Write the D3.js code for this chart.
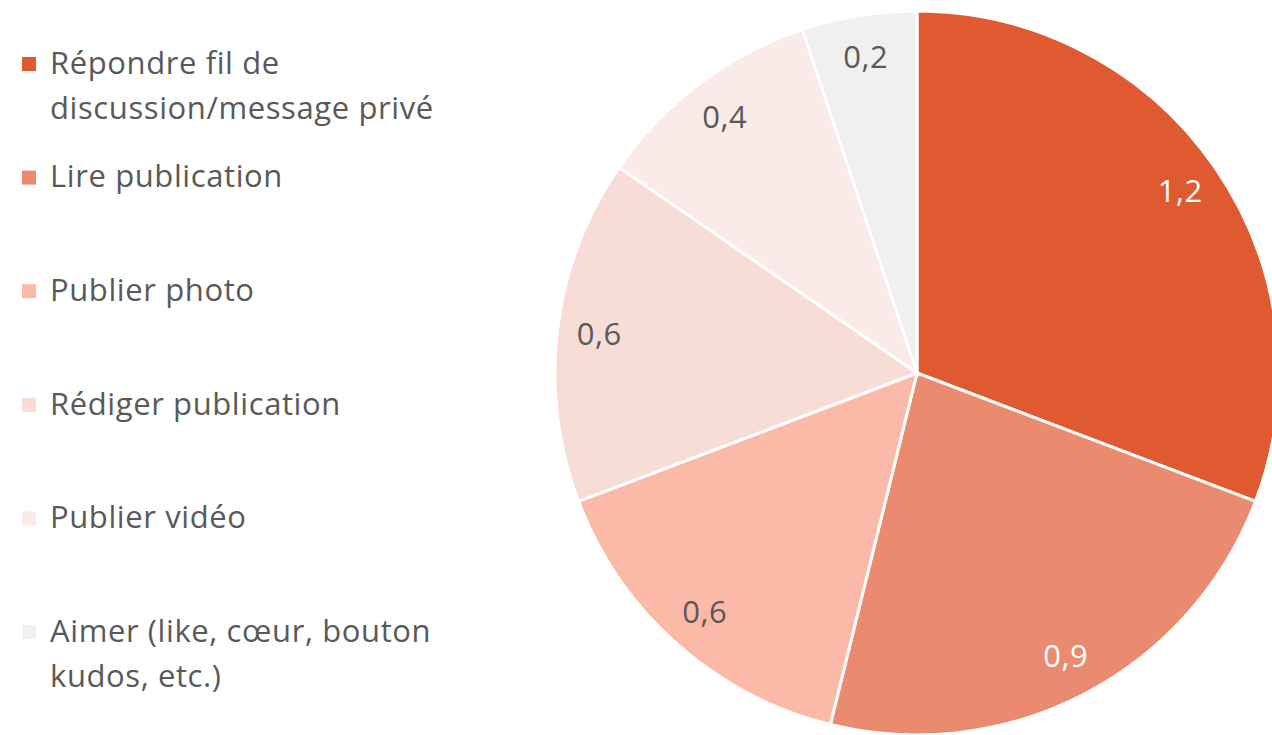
<!DOCTYPE html>
<html>
<head>
<meta charset="utf-8">
<script src="https://cdn.jsdelivr.net/npm/d3@7.9.0/dist/d3.min.js"></script>
<style>
  body { margin: 0; background: #fff; }
  svg { display: block; font-family: "Open Sans", "Lato", sans-serif; }
</style>
</head>
<body>
<svg width="1272" height="735"></svg>
<script>
// categories and values
const categories = [
  ['Répondre fil de', 'discussion/message privé'],
  ['Lire publication'],
  ['Publier photo'],
  ['Rédiger publication'],
  ['Publier vidéo'],
  ['Aimer (like, cœur, bouton', 'kudos, etc.)']
];
const values = [1.2, 0.9, 0.6, 0.6, 0.4, 0.2];
const colors = ['#e05a31', '#ea8a6e', '#fbbaa8', '#f8dcd6', '#fbebe8', '#f0f0f0'];
const labelColors = ['#ffffff', '#ffffff', '#595959', '#595959', '#595959', '#595959'];

const data = values.map((v, i) => ({ v, name: categories[i], i }));
const fmt = d => d3.format('.1f')(d).replace('.', ',');

const svg = d3.select('svg');
const cx = 917, cy = 373, R = 362;

const pie = d3.pie().value(d => d.v).sort(null);
const arc = d3.arc().innerRadius(0).outerRadius(R);
const labelArc = d3.arc().innerRadius(320).outerRadius(320);

const g = svg.append('g').attr('transform', `translate(${cx},${cy})`);

g.selectAll('path')
  .data(pie(data))
  .join('path')
  .attr('d', arc)
  .attr('fill', d => colors[d.data.i])
  .attr('stroke', '#fff')
  .attr('stroke-width', 3);

g.selectAll('text')
  .data(pie(data))
  .join('text')
  .attr('transform', d => `translate(${labelArc.centroid(d)})`)
  .attr('text-anchor', 'middle')
  .attr('dy', '0.35em')
  .attr('font-size', 31)
  .attr('letter-spacing', 0.5)
  .attr('fill', d => labelColors[d.data.i])
  .text(d => fmt(d.data.v));

// legend
const legendY = d3.scalePoint().domain(d3.range(categories.length)).range([63, 631]);

const items = svg.append('g').selectAll('g')
  .data(data)
  .join('g')
  .attr('transform', d => `translate(0,${legendY(d.i)})`);

items.append('rect')
  .attr('x', 22).attr('y', -6)
  .attr('width', 14).attr('height', 14)
  .attr('fill', d => colors[d.i]);

items.append('text')
  .attr('x', 50)
  .attr('font-size', 31)
  .attr('letter-spacing', 0.6)
  .attr('fill', '#595959')
  .selectAll('tspan')
  .data(d => d.name)
  .join('tspan')
  .attr('x', 50)
  .attr('y', (d, j) => j * 45)
  .attr('dy', '0.35em')
  .text(d => d);
</script>
</body>
</html>
